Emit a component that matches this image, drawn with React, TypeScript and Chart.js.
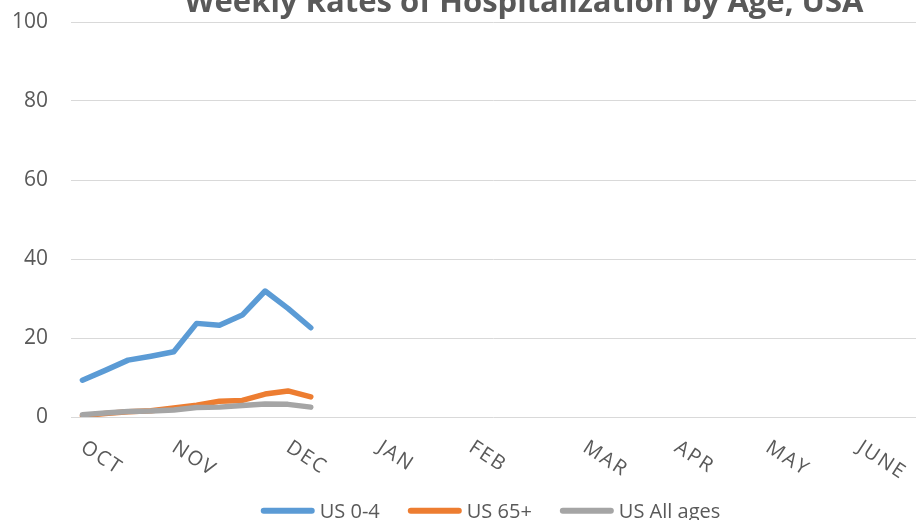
import React, { useEffect, useRef } from "react";
import { Chart, registerables } from "chart.js";

Chart.register(...registerables);

const TITLE = "Weekly Rates of Hospitalization by Age, USA";

// 37 weekly categories; month names mark the first week of each month
const WEEK_LABELS = [
  "OCT", "", "", "",
  "NOV", "", "", "", "",
  "DEC", "", "", "",
  "JAN", "", "", "",
  "FEB", "", "", "", "",
  "MAR", "", "", "",
  "APR", "", "", "",
  "MAY", "", "", "",
  "JUNE", "", "",
];

const SERIES_NAMES = ["US 0-4", "US 65+", "US All ages"];
const US_0_4 = [9.3, 11.8, 14.4, 15.4, 16.5, 23.7, 23.2, 25.8, 31.9, 27.5, 22.6];
const US_65_PLUS = [0.3, 0.9, 1.3, 1.6, 2.3, 3.0, 4.0, 4.2, 5.8, 6.6, 5.1];
const US_ALL_AGES = [0.6, 1.0, 1.4, 1.5, 1.8, 2.4, 2.5, 2.9, 3.3, 3.2, 2.5];
const COLORS = ["#5B9BD5", "#ED7D31", "#A5A5A5"];

const Y_MIN = 0;
const Y_MAX = 100;
const Y_STEP = 20;

const TEXT_COLOR = "#595959";
const FONT = "'Open Sans', 'DejaVu Sans', sans-serif";

const overlay = {
  id: "overlay",
  afterDraw(chart: any) {
    const ctx = chart.ctx as CanvasRenderingContext2D;
    const xs = chart.scales.x;
    ctx.save();
    ctx.fillStyle = TEXT_COLOR;

    // Title (partly cut off at the top, as in the reference)
    ctx.font = `bold 31px ${FONT}`;
    ctx.textAlign = "center";
    ctx.textBaseline = "alphabetic";
    ctx.fillText(TITLE, 524, 11.5);

    // Rotated month labels on the category axis
    ctx.font = `20px ${FONT}`;
    (ctx as any).letterSpacing = "2px";
    WEEK_LABELS.forEach((lab, i) => {
      if (!lab) return;
      const px = xs.getPixelForValue(i);
      ctx.save();
      ctx.translate(px - 3, 450.5);
      ctx.rotate((33 * Math.PI) / 180);
      ctx.textAlign = "left";
      ctx.textBaseline = "alphabetic";
      ctx.fillText(lab, 0, 0);
      ctx.restore();
    });
    (ctx as any).letterSpacing = "0px";

    // Legend
    ctx.font = `20px ${FONT}`;
    const lineLen = 54;
    const gapLineText = 5;
    const gapItems = 28;
    const widths = SERIES_NAMES.map((n) => lineLen + gapLineText + ctx.measureText(n).width);
    const total = widths.reduce((a, b) => a + b, 0) + gapItems * (SERIES_NAMES.length - 1);
    let x = 490.5 - total / 2;
    const ly = 510.7;
    SERIES_NAMES.forEach((name, i) => {
      ctx.strokeStyle = COLORS[i];
      ctx.lineWidth = 6;
      ctx.lineCap = "round";
      ctx.beginPath();
      ctx.moveTo(x + 3, ly);
      ctx.lineTo(x + lineLen - 3, ly);
      ctx.stroke();
      ctx.textAlign = "left";
      ctx.textBaseline = "alphabetic";
      ctx.fillText(name, x + lineLen + gapLineText, 517.5);
      x += widths[i] + gapItems;
    });
    ctx.restore();
  },
};

export default function App() {
  const canvasRef = useRef<HTMLCanvasElement | null>(null);

  useEffect(() => {
    if (!canvasRef.current) return;
    const seriesData = [US_0_4, US_65_PLUS, US_ALL_AGES];
    const chart = new Chart(canvasRef.current, {
      type: "line",
      data: {
        labels: WEEK_LABELS,
        datasets: SERIES_NAMES.map((name, i) => ({
          label: name,
          data: seriesData[i],
          borderColor: COLORS[i],
          backgroundColor: COLORS[i],
          borderWidth: 5.5,
          borderCapStyle: "round" as const,
          borderJoinStyle: "round" as const,
          pointRadius: 0,
          pointHoverRadius: 0,
          tension: 0,
          fill: false,
          order: SERIES_NAMES.length - i,
        })),
      },
      options: {
        responsive: false,
        animation: false,
        events: [],
        layout: { padding: { top: 22, right: 0, bottom: 103, left: 0 } },
        plugins: {
          legend: { display: false },
          title: { display: false },
          tooltip: { enabled: false },
        },
        scales: {
          x: {
            type: "category",
            offset: true,
            grid: { display: false, drawTicks: false },
            border: { display: false },
            ticks: { display: false },
          },
          y: {
            min: Y_MIN,
            max: Y_MAX,
            afterFit(scale: any) {
              scale.width = 71;
              scale.paddingTop = 0;
              scale.paddingBottom = 0;
            },
            grid: { color: "#D9D9D9", lineWidth: 1, drawTicks: false },
            border: { display: false },
            ticks: {
              stepSize: Y_STEP,
              padding: 23,
              color: TEXT_COLOR,
              font: { family: FONT, size: 21 },
            },
          },
        },
      },
      plugins: [overlay],
    });
    return () => chart.destroy();
  }, []);

  return (
    <div style={{ position: "fixed", left: 0, top: 0, width: 916, height: 520, background: "#fff" }}>
      <canvas ref={canvasRef} width={916} height={520} style={{ display: "block" }} />
    </div>
  );
}
